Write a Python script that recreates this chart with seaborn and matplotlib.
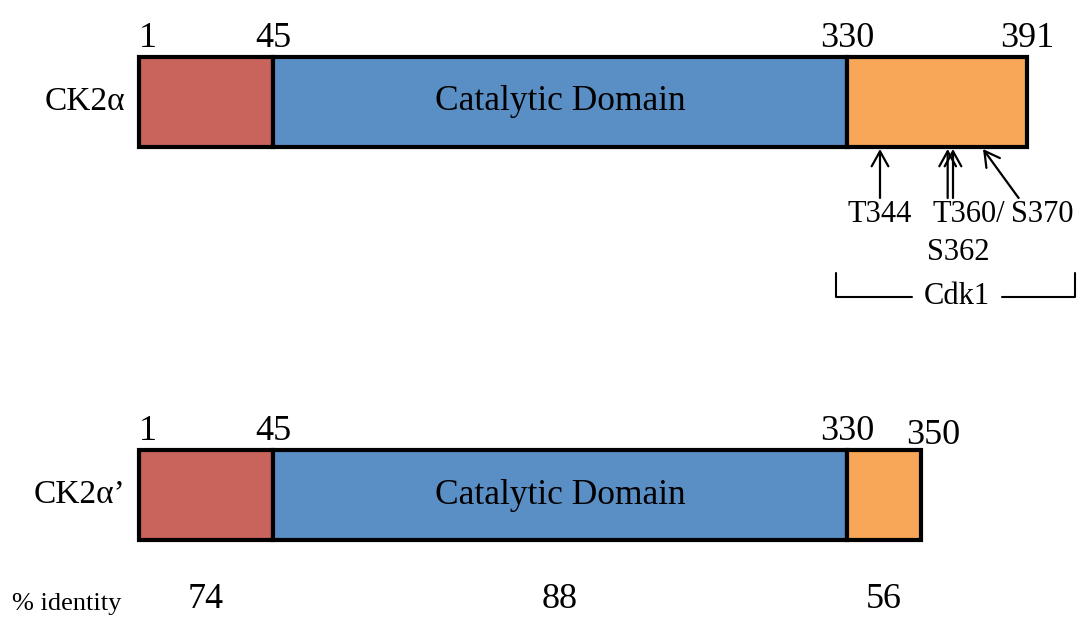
import numpy as np
import matplotlib
matplotlib.use("Agg")
import matplotlib.pyplot as plt
import seaborn as sns

# data
proteins = ["CK2α", "CK2α’"]
bounds_alpha = [1, 45, 330, 391]
bounds_alpha2 = [1, 45, 330, 350]
domain_names = ["", "Catalytic Domain", ""]
domain_colors = ["#C8645B", "#5A8FC5", "#F8A658"]
identity = [74, 88, 56]
sites = ["T344", "T360", "S362", "S370"]
site_res = [344, 360, 362, 370]
kinase = "Cdk1"

sns.set_style("white")
plt.rcParams["font.family"] = ["Liberation Serif", "DejaVu Serif"]
plt.rcParams["text.color"] = "black"

# schematic (not to scale) residue axis
res_pts = np.array([-60, 1, 45, 330, 344, 350, 362, 370, 391, 450])
px_pts = np.array([-46.8, 139, 273, 847, 880, 921, 953, 983, 1027, 1150.6])
fwd = lambda r: np.interp(r, res_pts, px_pts)
inv = lambda p: np.interp(p, px_pts, res_pts)

fig = plt.figure(figsize=(10.84, 6.22), dpi=100)
ax = fig.add_axes([0, 0, 1, 1])
ax.set_xscale("function", functions=(fwd, inv))
ax.set_xlim(float(inv(0)), float(inv(1084)))
ax.set_ylim(622, 0)
ax.axis("off")

rows = [(102, bounds_alpha), (495, bounds_alpha2)]
for (yc, b), name in zip(rows, proteins):
    starts = b[:-1]
    widths = np.diff(b)
    ax.barh(yc, widths, left=starts, height=90, color=domain_colors,
            edgecolor="black", linewidth=3, zorder=2)
    for s, w, lab in zip(starts, widths, domain_names):
        if lab:
            ax.text(s + w / 2, yc, lab, ha="center", va="center", fontsize=25.5, zorder=3)
    ax.text(inv(125), yc, name, ha="right", va="center", fontsize=24)
    for i, r in enumerate(b):
        ha = "left" if i == 0 else "center"
        dx, dy = (0, 0)
        if i == len(b) - 1 and b is bounds_alpha2:
            dx, dy = (12, 4)
        ax.annotate(str(r), (r, yc - 47), xytext=(dx, -dy), textcoords="offset pixels",
                    ha=ha, va="bottom", fontsize=26)

# phosphosite arrows
tails = [(344, 198), (360, 198), (362, 198), (391 - 4, 198)]
for r, (tx, ty) in zip(site_res, tails):
    ax.annotate("", xy=(r, 149), xytext=(tx, ty),
                arrowprops=dict(arrowstyle="->,head_length=0.45,head_width=0.25", lw=1.6,
                                color="black", mutation_scale=24, shrinkA=0, shrinkB=0))
ax.text(344, 214, sites[0], ha="center", va="center", fontsize=22)
ax.text(inv(969), 214, sites[1] + "/", ha="center", va="center", fontsize=22)
ax.text(inv(958), 252, sites[2], ha="center", va="center", fontsize=22)
ax.text(inv(1042), 214, sites[3], ha="center", va="center", fontsize=22)

# kinase bracket
xl, xr = inv(836), inv(1075)
ax.plot([xl, xl, inv(912)], [273, 297, 297], color="black", lw=1.5)
ax.plot([inv(1002), xr, xr], [297, 297, 273], color="black", lw=1.5)
ax.text(inv(957), 297, kinase, ha="center", va="center", fontsize=22)

# identity row
ax.text(inv(12), 604, "% identity", ha="left", va="center", fontsize=19)
b = bounds_alpha2
for s, e, v in zip(b[:-1], b[1:], identity):
    ax.text(inv((fwd(s) + fwd(e)) / 2), 600, str(v), ha="center", va="center", fontsize=26)

fig.savefig("out.png", dpi=100)
